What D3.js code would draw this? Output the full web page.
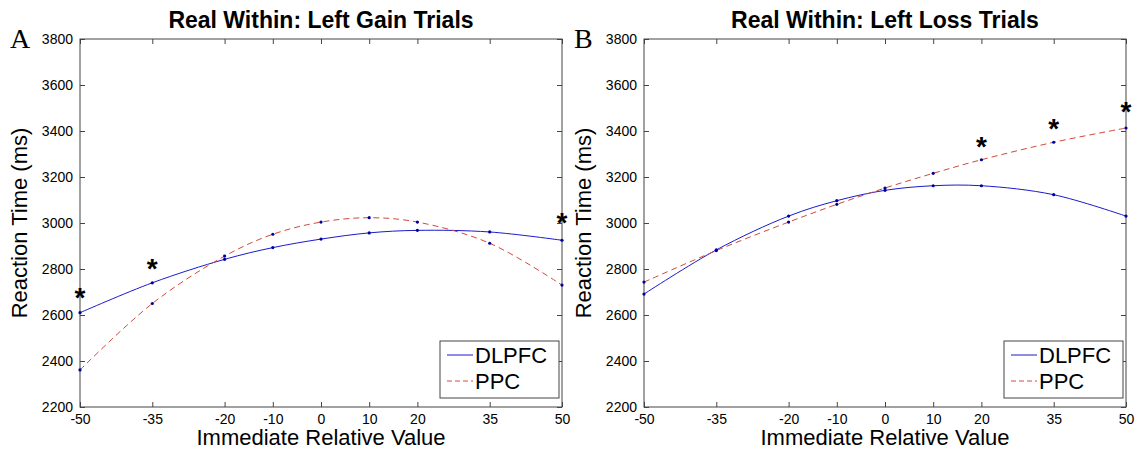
<!DOCTYPE html>
<html><head><meta charset="utf-8">
<script src="https://cdn.jsdelivr.net/npm/d3@7"></script>
<style>body{margin:0;background:#fff}</style>
</head><body>
<svg id="chart" width="1138" height="451" font-family='"Liberation Sans",Arial,sans-serif'></svg>
<script>
const xValues = [-50, -35, -20, -10, 0, 10, 20, 35, 50];
const yTicks = [2200, 2400, 2600, 2800, 3000, 3200, 3400, 3600, 3800];
const seriesNames = ["DLPFC", "PPC"];
const gainDLPFC = [2610, 2740, 2842, 2893, 2930, 2957, 2968, 2961, 2925];
const gainPPC   = [2361, 2650, 2856, 2951, 3004, 3023, 3004, 2912, 2730];
const lossDLPFC = [2691, 2883, 3030, 3097, 3142, 3162, 3162, 3123, 3030];
const lossPPC   = [2743, 2880, 3004, 3081, 3152, 3216, 3275, 3351, 3413];
const gainStars = [[-50, 2700], [-35, 2825], [50, 3025]];
const lossStars = [[20, 3355], [35, 3435], [50, 3510]];
const titles = ["Real Within: Left Gain Trials", "Real Within: Left Loss Trials"];
const letters = ["A", "B"];

const panels = [
  {left: 80, title: titles[0], letter: letters[0], s: [gainDLPFC, gainPPC], stars: gainStars},
  {left: 644, title: titles[1], letter: letters[1], s: [lossDLPFC, lossPPC], stars: lossStars}
];
const W = 482, plotTop = 39, plotBottom = 407;
const svg = d3.select("#chart");
const colors = ["#1a1acc", "#d04a3a"];
const dashes = [null, "6,4"];
const sans = '"Liberation Sans",Arial,sans-serif';

panels.forEach(p => {
  const g = svg.append("g");
  const x = d3.scaleLinear().domain([-50, 50]).range([p.left, p.left + W]);
  const y = d3.scaleLinear().domain([2200, 3800]).range([plotBottom, plotTop]);
  const axCol = "#444";
  g.append("rect").attr("x", p.left).attr("y", plotTop).attr("width", W).attr("height", plotBottom - plotTop)
    .attr("fill", "none").attr("stroke", axCol).attr("stroke-width", 1);
  const fmt = d => String(d);
  const ax = [
    d3.axisBottom(x).tickValues(xValues).tickSize(-5).tickPadding(7).tickFormat(fmt),
    d3.axisTop(x).tickValues(xValues).tickSize(-5).tickFormat(""),
    d3.axisLeft(y).tickValues(yTicks).tickSize(-5).tickPadding(7).tickFormat(fmt),
    d3.axisRight(y).tickValues(yTicks).tickSize(-5).tickFormat("")
  ];
  const tr = [`translate(0,${plotBottom})`, `translate(0,${plotTop})`, `translate(${p.left},0)`, `translate(${p.left + W},0)`];
  ax.forEach((a, i) => {
    const gg = g.append("g").attr("transform", tr[i]).call(a);
    gg.select(".domain").remove();
    gg.selectAll("line").attr("stroke", axCol);
    gg.selectAll("text").attr("font-size", 14).attr("fill", "#000").attr("font-family", sans);
  });
  p.s.forEach((vals, i) => {
    const line = d3.line().x((d, j) => x(xValues[j])).y(d => y(d)).curve(d3.curveCatmullRom.alpha(0.5));
    g.append("path").datum(vals).attr("d", line).attr("fill", "none")
      .attr("stroke", colors[i]).attr("stroke-width", 1).attr("stroke-dasharray", dashes[i]);
  });
  p.s.forEach(vals => {
    g.selectAll(null).data(vals).enter().append("circle")
      .attr("cx", (d, j) => x(xValues[j])).attr("cy", d => y(d)).attr("r", 1.6).attr("fill", "#0000a0");
  });
  g.selectAll(null).data(p.stars).enter().append("text")
    .attr("x", d => x(d[0])).attr("y", d => y(d[1]) + 15).attr("text-anchor", "middle")
    .attr("font-size", 28).attr("font-weight", "bold").text("*");
  g.append("text").attr("x", p.left + W / 2).attr("y", 28).attr("text-anchor", "middle")
    .attr("font-size", 23).attr("font-weight", "bold").text(p.title);
  g.append("text").attr("x", p.left - 70).attr("y", 48).attr("font-size", 28)
    .attr("font-family", '"Liberation Serif","Times New Roman",serif').text(p.letter);
  g.append("text").attr("x", p.left + W / 2).attr("y", 445).attr("text-anchor", "middle")
    .attr("font-size", 22).text("Immediate Relative Value");
  g.append("text").attr("transform", `translate(${p.left - 53},${(plotTop + plotBottom) / 2}) rotate(-90)`)
    .attr("text-anchor", "middle").attr("font-size", 22).text("Reaction Time (ms)");
  const lx = p.left + W - 122, ly = 341, lw = 119, lh = 57;
  g.append("rect").attr("x", lx).attr("y", ly).attr("width", lw).attr("height", lh)
    .attr("fill", "#fff").attr("stroke", axCol).attr("stroke-width", 1);
  seriesNames.forEach((n, i) => {
    const yy = ly + 14 + i * 26;
    g.append("line").attr("x1", lx + 7).attr("x2", lx + 33).attr("y1", yy).attr("y2", yy)
      .attr("stroke", colors[i]).attr("stroke-width", 1).attr("stroke-dasharray", i ? "5,3" : null);
    g.append("text").attr("x", lx + 35).attr("y", yy + 8).attr("font-size", 22).text(n);
  });
});
</script>
</body></html>
